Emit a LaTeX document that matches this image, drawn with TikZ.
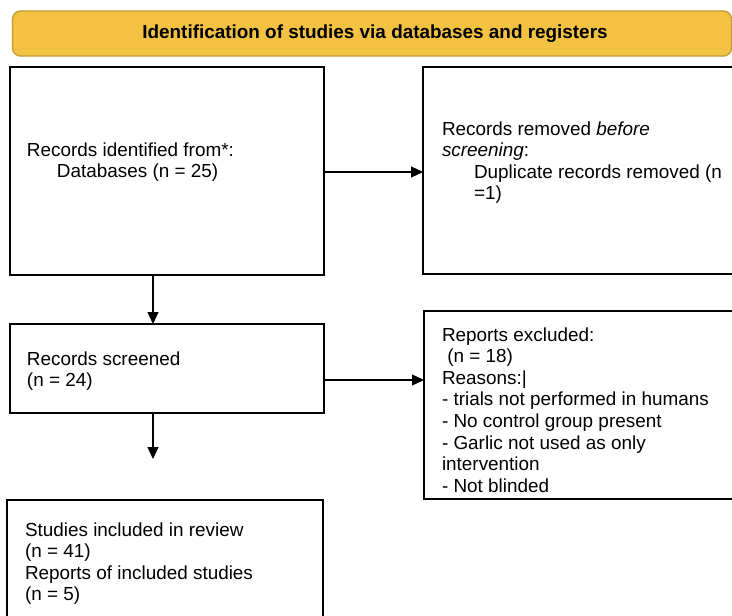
\documentclass[tikz,border=0pt]{standalone}
\usepackage{fontspec}
\setmainfont{Liberation Sans}
\usetikzlibrary{arrows.meta,calc}
\definecolor{hdrfill}{HTML}{F4C242}
\definecolor{hdrline}{HTML}{C49A34}
\begin{document}
\begin{tikzpicture}[x=1pt,y=-1pt,
  box/.style={draw=black,line width=2.7pt,rectangle,inner sep=0pt,outer sep=0pt,anchor=north west},
  hdr/.style={draw=hdrline,fill=hdrfill,line width=1.3pt,rounded corners=8pt,rectangle,inner sep=0pt,outer sep=0pt,font=\fontsize{18.9}{21.6}\selectfont\bfseries},
  txt/.style={anchor=base west,inner sep=0pt,outer sep=0pt,align=left,font=\fontsize{18.9}{21.6}\selectfont},
  conn/.style={line width=1.2pt,-{Triangle[length=12pt,width=11pt]}}]
\useasboundingbox (0,0) rectangle (732,616);
\clip (0,0) rectangle (732,616);
% header
\node[hdr,minimum width=719pt,minimum height=45pt] (hdr) at (372,33.5) {\hspace*{6pt}Identification of studies via databases and registers};
% boxes
\node[box,minimum width=314pt,minimum height=208pt] (b1) at (10,67) {};
\node[box,minimum width=330pt,minimum height=207pt] (b2) at (423,67) {};
\node[box,minimum width=314pt,minimum height=89pt] (b3) at (10,324) {};
\node[box,minimum width=330pt,minimum height=188pt] (b4) at (424,311) {};
\node[box,minimum width=316pt,minimum height=140pt] (b5) at (7,500) {};
% texts (anchor = baseline of the last line)
\node[txt] (t1) at (27,177.6) {Records identified from*:\\\hspace*{30pt}Databases (n = 25)};
\node[txt] (t2) at (442,199.8) {Records removed \textit{before}\\\textit{screening}:\\\hspace*{32pt}Duplicate records removed (n\\\hspace*{32pt}=1)};
\node[txt] (t3) at (27,386.6) {Records screened\\(n = 24)};
\node[txt] (t4) at (442,492.2) {Reports excluded:\\\hspace*{0.278em}(n = 18)\\Reasons:|\\- trials not performed in humans\\- No control group present\\- Garlic not used as only\\intervention\\- Not blinded};
\node[txt] (t5) at (25,600.8) {Studies included in review\\(n = 41)\\Reports of included studies\\(n = 5)};
% connectors
\coordinate (e5) at (153,459);
\draw[conn] ([xshift=143pt]b1.south west) -- ([xshift=143pt]b1.south west |- b3.north);
\draw[conn] ([xshift=143pt]b3.south west) -- (e5);
\draw[conn] ([yshift=-1pt]b1.east) -- ([yshift=-1pt]b1.east -| b2.west);
\draw[conn] ([yshift=33pt]b3.south east) -- ([yshift=33pt]b3.south east -| b4.west);
\end{tikzpicture}
\end{document}
